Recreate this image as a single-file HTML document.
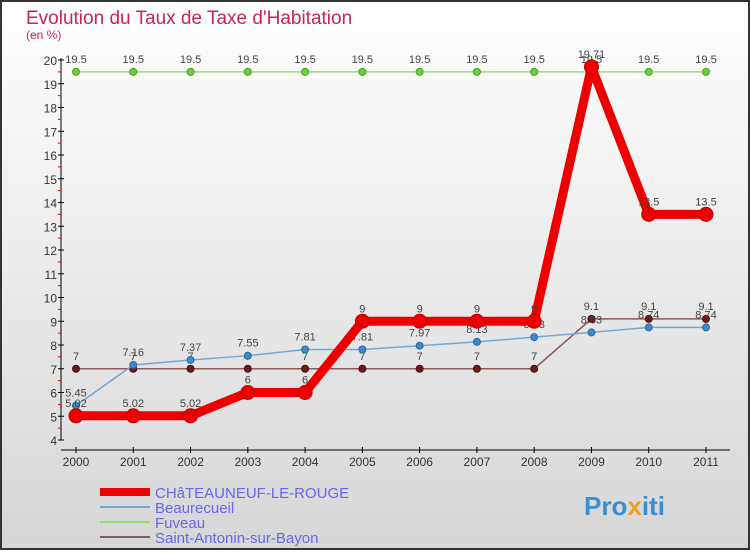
<!DOCTYPE html>
<html><head><meta charset="utf-8"><style>
body{margin:0;width:750px;height:550px;overflow:hidden;font-family:"Liberation Sans",sans-serif}
</style></head><body>
<svg id="chart" width="750" height="550" xmlns="http://www.w3.org/2000/svg">
<defs><linearGradient id="bg" x1="0" y1="0" x2="0" y2="1"><stop offset="0" stop-color="#ffffff"/><stop offset="1" stop-color="#d6d6d6"/></linearGradient></defs>
<rect x="1" y="1" width="748" height="548" fill="url(#bg)" stroke="#333" stroke-width="2"/>
<text x="26" y="24" font-size="19" fill="#c8245a">Evolution du Taux de Taxe d'Habitation</text>
<text x="26" y="39" font-size="12" fill="#c8245a">(en %)</text>
<g id="axes"></g><g id="series"></g><g id="legend"></g>
<g><text x="584" y="515" font-size="26" font-weight="bold" fill="#3a8fd0">Pro<tspan fill="#f0a020">x</tspan><tspan fill="#3a8fd0">iti</tspan></text></g>
</svg>
<script>
const years=["2000","2001","2002","2003","2004","2005","2006","2007","2008","2009","2010","2011"];
const chateauneuf=[5.02,5.02,5.02,6,6,9,9,9,9,19.71,13.5,13.5];
const beaurecueil=[5.45,7.16,7.37,7.55,7.81,7.81,7.97,8.13,8.33,8.53,8.74,8.74];
const fuveau=[19.5,19.5,19.5,19.5,19.5,19.5,19.5,19.5,19.5,19.5,19.5,19.5];
const saintAntonin=[7,7,7,7,7,7,7,7,7,9.1,9.1,9.1];
const yTicks=[4,5,6,7,8,9,10,11,12,13,14,15,16,17,18,19,20];
const NS="http://www.w3.org/2000/svg";
const x=i=>76+i*(630/11);
const y=v=>440-(v-4)*23.75;
function mk(p,tag,a){const e=document.createElementNS(NS,tag);for(const k in a)e.setAttribute(k,a[k]);p.appendChild(e);return e;}
const ax=document.getElementById('axes');
let l=mk(ax,'line',{x1:61,y1:y(20)-2,x2:61,y2:440,stroke:'#000'});


l=mk(ax,'line',{x1:61,y1:450,x2:730,y2:450,stroke:'#000'});


yTicks.forEach(v=>{
 mk(ax,'line',{x1:58,x2:64,y1:y(v),y2:y(v),stroke:'#000'});
 if(v<20)mk(ax,'line',{x1:58,x2:61,y1:y(v+0.5),y2:y(v+0.5),stroke:'#e00'});
 const t=mk(ax,'text',{x:57,y:y(v)+5,'font-size':12,'text-anchor':'end',fill:'#333'});t.textContent=v;
 
 
});
years.forEach((yr,i)=>{
 mk(ax,'line',{x1:x(i),x2:x(i),y1:447,y2:453,stroke:'#000'});
 const t=mk(ax,'text',{x:x(i),y:466,'font-size':12,'text-anchor':'middle',fill:'#333'});t.textContent=yr;
 
 
});
const sg=document.getElementById('series');
function series(data,color,w,r,name,dot,fill){
 const g=mk(sg,'g',{});
 
 
 const p=mk(g,'polyline',{points:data.map((v,i)=>x(i)+','+y(v)).join(' '),fill:'none',stroke:color,'stroke-width':w,'stroke-linejoin':'round'});
 data.forEach((v,i)=>{
  const c=mk(g,'circle',{cx:x(i),cy:y(v),r:r,fill:fill,stroke:dot,'stroke-width':1});
  
  
  const t=mk(g,'text',{x:x(i),y:y(v)-9,'font-size':11,'text-anchor':'middle',fill:'#444'});t.textContent=v;
 });
}
series(saintAntonin,'#8a5a5a',1.5,3.5,'saint-antonin-series','#4a1010','#6a1a1a');
series(beaurecueil,'#6fa8d6',1.5,3.5,'beaurecueil-series','#2a6aa0','#3a8ad0');
series(fuveau,'#90e070',1.5,3.5,'fuveau-series','#4aa020','#6ad040');
series(chateauneuf,'#ee0000',9,7,'chateauneuf-series','#c00000','#ee0000');
const lg=document.getElementById('legend');
const items=[["CHâTEAUNEUF-LE-ROUGE","#ee0000",8],["Beaurecueil","#6fa8d6",2],["Fuveau","#90e070",2],["Saint-Antonin-sur-Bayon","#8a5a5a",2]];
items.forEach((it,k)=>{
 const yy=492+k*15;
 const g=mk(lg,'g',{});
 
 
 mk(g,'line',{x1:100,x2:150,y1:yy,y2:yy,stroke:it[1],'stroke-width':it[2]});
 const t=mk(g,'text',{x:155,y:yy+6,'font-size':15,fill:'#6666ee'});t.textContent=it[0];
});
</script>
</body></html>
